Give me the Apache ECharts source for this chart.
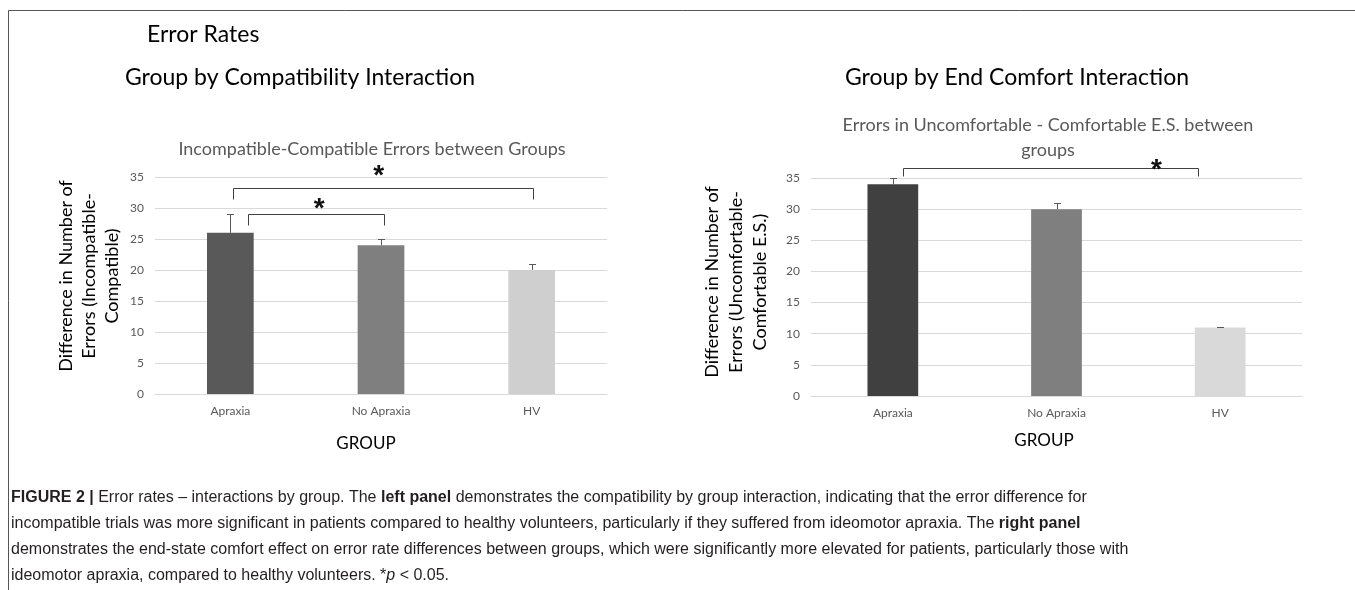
<!DOCTYPE html>
<html>
<head>
<meta charset="utf-8">
<title>Error Rates</title>
<script src="https://cdn.jsdelivr.net/npm/echarts@6/dist/echarts.min.js"></script>
<style>
  html, body { margin: 0; padding: 0; background: #ffffff; }
  #chart { width: 1355px; height: 590px; }
</style>
</head>
<body>
<div id="chart"></div>
<script>
// ---- data ----
const groups = ['Apraxia', 'No Apraxia', 'HV'];

// Incompatible - compatible error differences
const compatMeans = [26, 24, 20];
const compatErrors = [3, 1, 1];

// Uncomfortable - comfortable end-state error differences
const comfortMeans = [34, 30, 11];
const comfortErrors = [1, 1, 0.1];

// y axis range shared by both panels
const yMin = 0;
const yMax = 35;
const yStep = 5;

// significance brackets, in category units (0 = Apraxia) and axis values
// [from, to, barLevel, legEnd, starAt, starLevel]
const compatBrackets = [
  [0.12, 1.02, 29.0, 27.3, 0.59, 30.9],
  [0.02, 2.01, 33.3, 31.5, 0.985, 36.2]
];
const comfortBrackets = [
  [0.065, 1.865, 36.6, 35.4, 1.61, 37.3]
];

// ---- styling ----
const compatColors = ['#595959', '#7f7f7f', '#cfcfcf'];
const comfortColors = ['#404040', '#7f7f7f', '#d9d9d9'];
const UI_FONT = 'Lato';
const CAPTION_FONT = 'Liberation Sans';
const CAPTION_SIZE = 16;

const chart = echarts.init(document.getElementById('chart'), null, { renderer: 'canvas' });

function crisp(v) { return Math.round(v) + 0.5; }

function errorBarItem(params, api) {
  const i = api.value(0);
  const m = api.value(1);
  const e = api.value(2);
  const base = api.coord([i, m]);
  const top = api.coord([i, m + e]);
  const half = 3.5;
  const x = crisp(base[0]);
  const yTop = crisp(top[1]);
  const style = { stroke: '#595959', lineWidth: 1 };
  return {
    type: 'group',
    children: [
      { type: 'line', shape: { x1: x, y1: base[1], x2: x, y2: yTop }, style },
      { type: 'line', shape: { x1: x - half, y1: yTop, x2: x + half, y2: yTop }, style }
    ]
  };
}

function bracketItem(params, api) {
  const from = api.value(1), to = api.value(2), level = api.value(3);
  const leg = api.value(4), starAt = api.value(5), starLevel = api.value(6);
  const origin = api.coord([0, 0])[0];
  const band = api.size([1, 0])[0];
  const xOf = (f) => crisp(origin + f * band);
  const yOf = (v) => crisp(api.coord([0, v])[1]);
  const x1 = xOf(from), x2 = xOf(to);
  const yb = yOf(level), yl = yOf(leg);
  const style = { stroke: '#404040', lineWidth: 1, fill: null };
  return {
    type: 'group',
    children: [
      { type: 'polyline', shape: { points: [[x1, yl], [x1, yb], [x2, yb], [x2, yl]] }, style },
      {
        type: 'text',
        x: origin + starAt * band,
        y: api.coord([0, starLevel])[1] + 7,
        style: {
          text: '*', fontSize: 28, fontWeight: 'bold', fontFamily: CAPTION_FONT,
          fill: '#111', align: 'center', verticalAlign: 'middle'
        }
      }
    ]
  };
}

function xAxisFor(gridIndex) {
  return {
    type: 'category', gridIndex, data: groups,
    axisLine: { show: true, lineStyle: { color: '#d9d9d9', width: 1 } },
    axisTick: { show: false },
    axisLabel: { color: '#595959', fontSize: 12, fontFamily: UI_FONT, margin: 11 }
  };
}

function yAxisFor(gridIndex) {
  return {
    type: 'value', gridIndex, min: yMin, max: yMax, interval: yStep,
    axisLine: { show: false },
    axisTick: { show: false },
    splitLine: { lineStyle: { color: '#d9d9d9', width: 1 } },
    axisLabel: { color: '#595959', fontSize: 12, fontFamily: UI_FONT, margin: 11 }
  };
}

function barSeries(idx, means, colors) {
  return {
    type: 'bar', xAxisIndex: idx, yAxisIndex: idx, barWidth: '31%',
    silent: true, animation: false,
    data: means.map((v, i) => ({ value: v, itemStyle: { color: colors[i] } }))
  };
}

function errorSeries(idx, means, errs) {
  return {
    type: 'custom', xAxisIndex: idx, yAxisIndex: idx, silent: true, animation: false,
    renderItem: errorBarItem, z: 3,
    data: means.map((v, i) => [i, v, errs[i]])
  };
}

function bracketSeries(idx, brackets) {
  return {
    type: 'custom', xAxisIndex: idx, yAxisIndex: idx, silent: true, animation: false,
    renderItem: bracketItem, z: 4, clip: false,
    encode: { x: 0, y: 3 },
    data: brackets.map(b => [0].concat(b))
  };
}

function label(x, y, text, opts) {
  return {
    type: 'text', x, y, silent: true,
    rotation: opts.rotation || 0,
    style: Object.assign({
      text, fontFamily: UI_FONT, fill: '#000', align: 'center', verticalAlign: 'middle'
    }, opts.style || {})
  };
}

const captionRich = {
  b: { fontWeight: 'bold', fontFamily: CAPTION_FONT, fontSize: CAPTION_SIZE, fill: '#231f20' },
  i: { fontStyle: 'italic', fontFamily: CAPTION_FONT, fontSize: CAPTION_SIZE, fill: '#231f20' }
};
const captionLines = [
  '{b|FIGURE 2 |} Error rates \u2013 interactions by group. The {b|left panel} demonstrates the compatibility by group interaction, indicating that the error difference for',
  'incompatible trials was more significant in patients compared to healthy volunteers, particularly if they suffered from ideomotor apraxia. The {b|right panel}',
  'demonstrates the end-state comfort effect on error rate differences between groups, which were significantly more elevated for patients, particularly those with',
  'ideomotor apraxia, compared to healthy volunteers. *{i|p} < 0.05.'
];
const captionTop = [498, 524, 550, 576];

const graphics = [
  // frame
  {
    type: 'polyline', silent: true,
    shape: { points: [[8.5, 600], [8.5, 10.5], [1360, 10.5]] },
    style: { stroke: '#555555', lineWidth: 1, fill: null }
  },
  label(147, 35, 'Error Rates', { style: { fontSize: 23, align: 'left' } }),
  label(300, 78, 'Group by Compatibility Interaction', { style: { fontSize: 23 } }),
  label(1017, 78, 'Group by End Comfort Interaction', { style: { fontSize: 23 } }),
  label(372, 149, 'Incompatible-Compatible Errors between Groups', { style: { fontSize: 18, fill: '#595959' } }),
  label(1048, 138, 'Errors in Uncomfortable - Comfortable E.S. between\ngroups',
    { style: { fontSize: 18, fill: '#595959', lineHeight: 25 } }),
  label(89, 276, 'Difference in Number of\nErrors (Incompatible-\nCompatible)',
    { rotation: Math.PI / 2, style: { fontSize: 18, lineHeight: 23 } }),
  label(736, 282, 'Difference in Number of\nErrors (Uncomfortable-\nComfortable E.S.)',
    { rotation: Math.PI / 2, style: { fontSize: 18, lineHeight: 24 } }),
  label(366, 444, 'GROUP', { style: { fontSize: 17 } }),
  label(1044, 441, 'GROUP', { style: { fontSize: 17 } })
];
captionLines.forEach((t, k) => {
  graphics.push({
    type: 'text', x: 11, y: captionTop[k], silent: true,
    style: {
      text: t, rich: captionRich, fontFamily: CAPTION_FONT, fontSize: CAPTION_SIZE,
      fill: '#231f20', align: 'left', verticalAlign: 'middle'
    }
  });
});

chart.setOption({
  animation: false,
  backgroundColor: '#ffffff',
  grid: [
    { left: 155, top: 177, width: 452, height: 217 },
    { left: 811, top: 178, width: 491, height: 218 }
  ],
  xAxis: [xAxisFor(0), xAxisFor(1)],
  yAxis: [yAxisFor(0), yAxisFor(1)],
  series: [
    barSeries(0, compatMeans, compatColors),
    errorSeries(0, compatMeans, compatErrors),
    bracketSeries(0, compatBrackets),
    barSeries(1, comfortMeans, comfortColors),
    errorSeries(1, comfortMeans, comfortErrors),
    bracketSeries(1, comfortBrackets)
  ],
  graphic: graphics
});
</script>
</body>
</html>
